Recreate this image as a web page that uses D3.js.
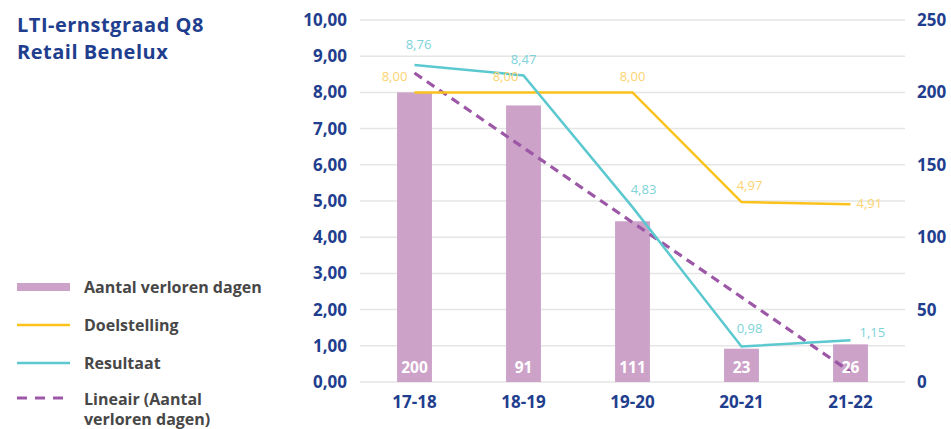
<!DOCTYPE html>
<html>
<head>
<meta charset="UTF-8">
<script src="https://d3js.org/d3.v7.min.js"></script>
<style>
    body { margin: 0; background: #fff; }
    svg { display: block; font-family: "Open Sans", sans-serif; }
</style>
</head>
<body>
<svg width="951" height="429"></svg>
<script>
    // data
    const seasons = ["17-18", "18-19", "19-20", "20-21", "21-22"];
    const lostDays = [200, 191, 111, 23, 26];          // bar heights (right axis)
    const lostDayLabels = ["200", "91", "111", "23", "26"];
    const target = [8.00, 8.00, 8.00, 4.97, 4.91];     // Doelstelling
    const result = [8.76, 8.47, 4.83, 0.98, 1.15];     // Resultaat
    const trend = [213.4, 161.8, 110.2, 58.6, 7.0];    // Lineair (Aantal verloren dagen)
    const leftTicks = [0, 1, 2, 3, 4, 5, 6, 7, 8, 9, 10];
    const rightTicks = [0, 50, 100, 150, 200, 250];
    const titleLines = ["LTI-ernstgraad Q8", "Retail Benelux"];

    // label offsets (layout only)
    const targetLabelPos = [[-20, -11], [-18, -11], [0, -11], [8, -12], [6, 4]];
    const resultLabelPos = [[4, -16], [0, -11], [11, -13], [8, -14], [9, -3]];

    const blue = "#1f3e8e";
    const svg = d3.select("svg");
    const plotL = 360, plotR = 905, plotT = 20, plotB = 382;

    const x = d3.scaleBand().domain(seasons).range([plotL, plotR]).paddingInner(0.68).paddingOuter(0.34);
    const yL = d3.scaleLinear().domain([0, 10]).range([plotB, plotT]);
    const yR = d3.scaleLinear().domain([0, 250]).range([plotB, plotT]);
    const cx = s => x(s) + x.bandwidth() / 2;
    const fmt = v => d3.format(".2f")(v).replace(".", ",");

    // gridlines
    svg.append("g").selectAll("line").data(leftTicks).join("line")
        .attr("x1", plotL).attr("x2", plotR)
        .attr("y1", d => yL(d)).attr("y2", d => yL(d))
        .attr("stroke", "#e5e5e5").attr("stroke-width", 1.5);

    // left axis
    const axL = svg.append("g").attr("transform", `translate(${plotL},0)`)
        .call(d3.axisLeft(yL).tickValues(leftTicks).tickFormat(fmt).tickSize(0).tickPadding(13));
    axL.select(".domain").remove();
    axL.selectAll("text").attr("fill", blue).attr("font-size", 17).attr("font-weight", 700)
        .attr("font-family", "Open Sans");

    // right axis
    const axR = svg.append("g").attr("transform", `translate(${plotR},0)`)
        .call(d3.axisRight(yR).tickValues(rightTicks).tickSize(0).tickPadding(12));
    axR.select(".domain").remove();
    axR.selectAll("text").attr("fill", blue).attr("font-size", 17).attr("font-weight", 700)
        .attr("font-family", "Open Sans");

    // x axis labels
    const axX = svg.append("g").attr("transform", `translate(0,${plotB})`)
        .call(d3.axisBottom(x).tickSize(0).tickPadding(14));
    axX.select(".domain").remove();
    axX.selectAll("text").attr("fill", blue).attr("font-size", 17).attr("font-weight", 700)
        .attr("font-family", "Open Sans");

    // bars
    svg.append("g").selectAll("rect").data(lostDays).join("rect")
        .attr("x", (d, i) => x(seasons[i]))
        .attr("width", x.bandwidth())
        .attr("y", d => yR(d))
        .attr("height", d => plotB - yR(d))
        .attr("fill", "#cda2c9");

    // trend line
    svg.append("path").datum(trend)
        .attr("d", d3.line().x((d, i) => cx(seasons[i])).y(d => yR(d)))
        .attr("fill", "none").attr("stroke", "#9c58a6").attr("stroke-width", 3.2)
        .attr("stroke-dasharray", "9,6");

    // target line
    svg.append("path").datum(target)
        .attr("d", d3.line().x((d, i) => cx(seasons[i])).y(d => yL(d)))
        .attr("fill", "none").attr("stroke", "#fbc21b").attr("stroke-width", 2.5);

    // result line
    svg.append("path").datum(result)
        .attr("d", d3.line().x((d, i) => cx(seasons[i])).y(d => yL(d)))
        .attr("fill", "none").attr("stroke", "#5cc8cf").attr("stroke-width", 2.5);

    // bar labels
    svg.append("g").selectAll("text").data(lostDayLabels).join("text")
        .attr("x", (d, i) => cx(seasons[i]))
        .attr("y", plotB - 9)
        .attr("text-anchor", "middle")
        .attr("fill", "#fff").attr("font-size", 15.5).attr("font-weight", 700)
        .text(d => d);

    // line labels
    svg.append("g").selectAll("text").data(target).join("text")
        .attr("x", (d, i) => cx(seasons[i]) + targetLabelPos[i][0])
        .attr("y", (d, i) => yL(d) + targetLabelPos[i][1])
        .attr("text-anchor", (d, i) => i === 4 ? "start" : "middle")
        .attr("fill", "#fcd36f").attr("font-size", 13)
        .text(fmt);

    svg.append("g").selectAll("text").data(result).join("text")
        .attr("x", (d, i) => cx(seasons[i]) + resultLabelPos[i][0])
        .attr("y", (d, i) => yL(d) + resultLabelPos[i][1])
        .attr("text-anchor", (d, i) => i === 4 ? "start" : "middle")
        .attr("fill", "#7dd3d9").attr("font-size", 13)
        .text(fmt);

    // title
    svg.append("g").selectAll("text").data(titleLines).join("text")
        .attr("x", 17).attr("y", (d, i) => 32 + i * 27)
        .attr("fill", blue).attr("font-size", 20).attr("font-weight", 700)
        .attr("letter-spacing", 0.5)
        .text(d => d);

    // legend
    const lg = svg.append("g").attr("font-size", 16).attr("font-weight", 700).attr("fill", "#474747");
    lg.append("rect").attr("x", 17).attr("y", 283).attr("width", 53).attr("height", 8).attr("fill", "#cda2c9");
    lg.append("text").attr("x", 84).attr("y", 293).text("Aantal verloren dagen");
    lg.append("line").attr("x1", 17).attr("x2", 70).attr("y1", 325).attr("y2", 325)
        .attr("stroke", "#fbc21b").attr("stroke-width", 2.5);
    lg.append("text").attr("x", 84).attr("y", 331).text("Doelstelling");
    lg.append("line").attr("x1", 17).attr("x2", 70).attr("y1", 363).attr("y2", 363)
        .attr("stroke", "#5cc8cf").attr("stroke-width", 2.5);
    lg.append("text").attr("x", 84).attr("y", 369).text("Resultaat");
    lg.append("line").attr("x1", 17).attr("x2", 70).attr("y1", 398).attr("y2", 398)
        .attr("stroke", "#9c58a6").attr("stroke-width", 3).attr("stroke-dasharray", "10,8");
    lg.append("text").attr("x", 84).attr("y", 405).text("Lineair (Aantal");
    lg.append("text").attr("x", 84).attr("y", 425).text("verloren dagen)");
</script>
</body>
</html>
